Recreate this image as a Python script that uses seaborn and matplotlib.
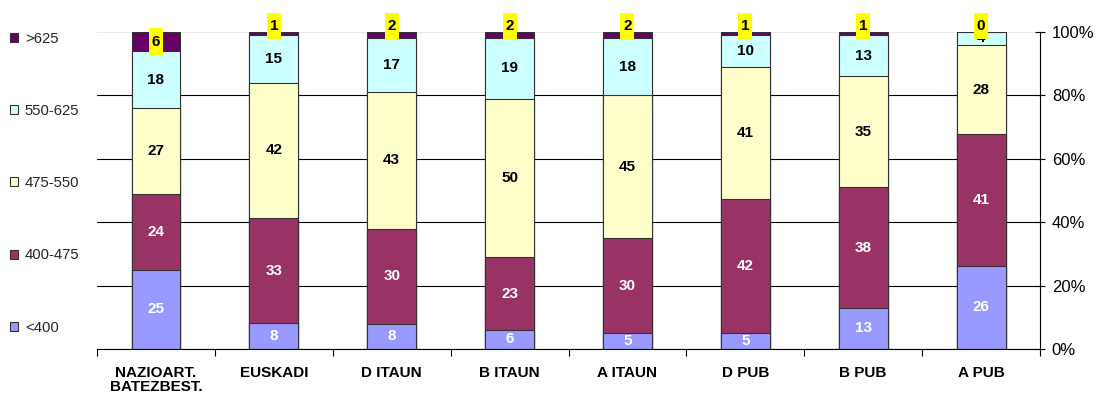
import matplotlib
matplotlib.use("Agg")
import matplotlib.pyplot as plt
import seaborn as sns
import pandas as pd
import numpy as np
from matplotlib.patches import Patch
from matplotlib.path import Path
from matplotlib.ticker import PercentFormatter

categories = ["NAZIOART.\nBATEZBEST.", "EUSKADI", "D ITAUN", "B ITAUN",
              "A ITAUN", "D PUB", "B PUB", "A PUB"]
bands = ["<400", "400-475", "475-550", "550-625", ">625"]
lt400 = [25, 8, 8, 6, 5, 5, 13, 26]
b400_475 = [24, 33, 30, 23, 30, 42, 38, 41]
b475_550 = [27, 42, 43, 50, 45, 41, 35, 28]
b550_625 = [18, 15, 17, 19, 18, 10, 13, 4]
gt625 = [6, 1, 2, 2, 2, 1, 1, 0]
yticks = [0, 20, 40, 60, 80, 100]

colors = ["#9999FF", "#993366", "#FFFFCC", "#CCFFFF", "#660066"]
label_colors = ["white", "white", "black", "black", "black"]
edge = "#333333"

sns.set_theme(style="white")
plt.rcParams['font.family'] = ['Liberation Sans', 'DejaVu Sans']

values = np.array([lt400, b400_475, b475_550, b550_625, gt625], dtype=float)
pct = values / values.sum(axis=0) * 100
cum = pct.cumsum(axis=0)


def tallbox(x0, y0, width, height, mutation_size):
    px = 0.18 * mutation_size
    py = 0.40 * mutation_size
    x0, y0 = x0 - px, y0 - py
    x1, y1 = x0 + width + 2 * px, y0 + height + 2 * py
    return Path([(x0, y0), (x1, y0), (x1, y1), (x0, y1), (x0, y0)],
                closed=True)


fig = plt.figure(figsize=(10.99, 3.98), dpi=100)
ax = fig.add_axes([0.0883, 0.1231, 0.858, 0.7965])
ax.set_axisbelow(True)

# stacked bars drawn as overlapping cumulative bars (top band first)
for i in range(len(bands) - 1, -1, -1):
    df = pd.DataFrame({"cat": categories, "val": cum[i]})
    sns.barplot(data=df, x="cat", y="val", order=categories, color=colors[i],
                saturation=1, width=0.415, edgecolor=edge, linewidth=0.8,
                errorbar=None, ax=ax)

# value labels
for i in range(len(bands)):
    for j in range(len(categories)):
        yc = cum[i, j] - pct[i, j] / 2
        kw = {}
        if i == len(bands) - 1:
            kw["bbox"] = dict(boxstyle=tallbox, facecolor="#FFFF00",
                              edgecolor="none")
            if pct[i, j] < 3:
                yc = 102.0
        ax.text(j, yc, f"{int(values[i, j])}", ha="center", va="center",
                fontsize=11, fontweight="bold", color=label_colors[i],
                zorder=5 + i, **kw)

ax.set_xlim(-0.5, len(categories) - 0.5)
ax.set_ylim(0, 100)
ax.set_xlabel("")
ax.set_ylabel("")

# right y axis
ax.yaxis.tick_right()
ax.set_yticks(yticks)
ax.yaxis.set_major_formatter(PercentFormatter(decimals=0))
ax.tick_params(axis='y', which='major', direction='inout', length=7, width=0.8,
               color='black', labelcolor='black', labelsize=12, pad=5,
               right=True, left=False)
ax.yaxis.grid(True, color='black', linewidth=0.8)
ax.get_ygridlines()[-1].set_color('#e6e6e6')
ax.get_ygridlines()[-1].set_linewidth(1.2)

# x axis
ax.set_xticks(np.arange(-0.5, len(categories), 1), minor=True)
ax.tick_params(axis='x', which='minor', length=5, width=0.8, direction='out',
               bottom=True, color='black')
ax.tick_params(axis='x', which='major', length=0, pad=12, labelsize=11,
               labelcolor='black')
for t in ax.get_xticklabels():
    t.set_fontweight('bold')
    t.set_linespacing(1.05)

for s in ["left", "top"]:
    ax.spines[s].set_visible(False)
for s in ["right", "bottom"]:
    ax.spines[s].set_color('black')
    ax.spines[s].set_linewidth(0.8)

# legend (top band first)
handles = [Patch(facecolor=colors[i], edgecolor=edge, linewidth=0.8)
           for i in reversed(range(len(bands)))]
fig.legend(handles, list(reversed(bands)), loc='upper left',
           bbox_to_anchor=(0.009, 0.9205), frameon=False, fontsize=10.7,
           handlelength=0.55, handleheight=0.55, handletextpad=0.45,
           labelspacing=3.92, borderpad=0, borderaxespad=0)

fig.savefig("out.png", dpi=100)
